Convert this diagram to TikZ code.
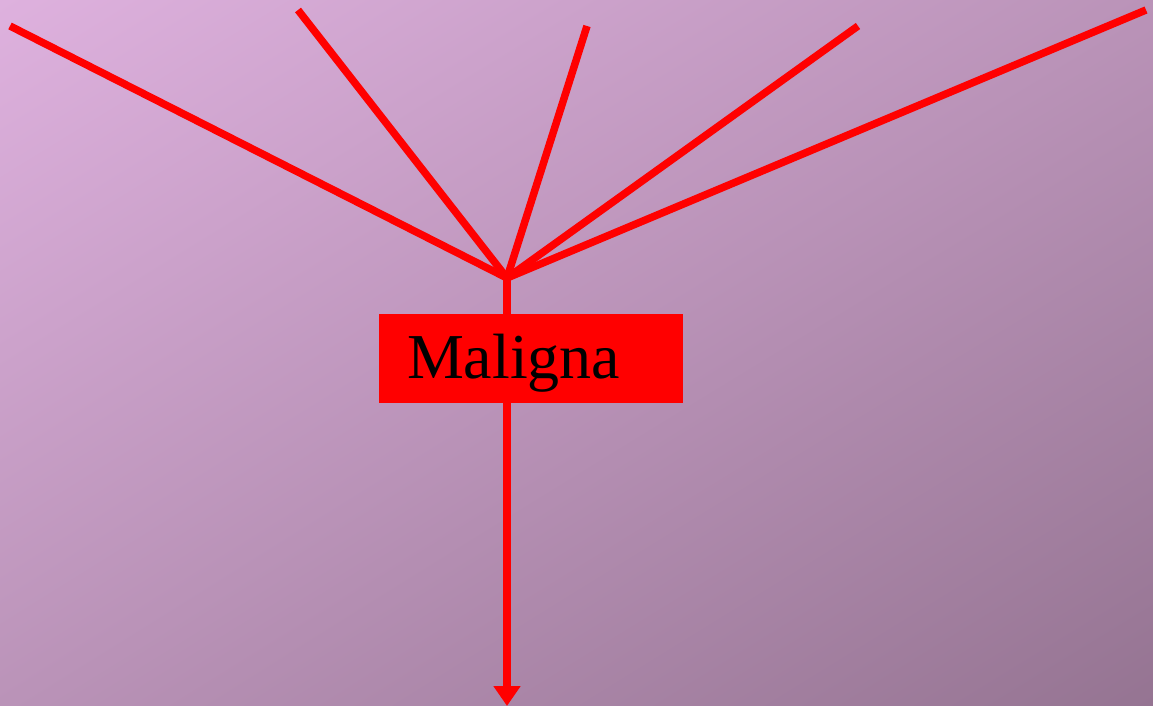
\documentclass[tikz,border=0pt]{standalone}
\usepackage{fontspec}
\setmainfont{Liberation Serif}
\usetikzlibrary{arrows.meta,shadings}
\definecolor{bgUL}{HTML}{DEB1DE}
\definecolor{bgLR}{HTML}{957492}
\definecolor{bgMid}{HTML}{BA93B8}
\tikzset{
  ray/.style={draw=red, line width=7.5pt},
  labelbox/.style={fill=red, draw=none, minimum width=304pt, minimum height=89pt,
    inner xsep=28pt, inner ysep=0pt, text height=50pt, text depth=11pt,
    text width=248pt, align=left, font=\fontsize{64}{70}\selectfont}
}
\begin{document}
\begin{tikzpicture}[x=1pt,y=-1pt]
\useasboundingbox (0,0) rectangle (1153,706);
\shade[upper left=bgUL, lower right=bgLR, upper right=bgMid, lower left=bgMid] (0,0) rectangle (1153,706);
\coordinate (hub) at (507,278);
\coordinate (e1) at (10,26);
\coordinate (e2) at (298,10);
\coordinate (e3) at (587,26);
\coordinate (e4) at (858,26);
\coordinate (e5) at (1146,10);
\coordinate (tip) at (507,706);
\foreach \e in {e1,e2,e3,e4,e5} \draw[ray] (\e) -- (hub);
\draw[ray, -{Triangle[width=26pt,length=20pt]}] (hub) -- (tip);
\node[labelbox] (box) at (531,358.5) {Maligna};
\end{tikzpicture}
\end{document}
